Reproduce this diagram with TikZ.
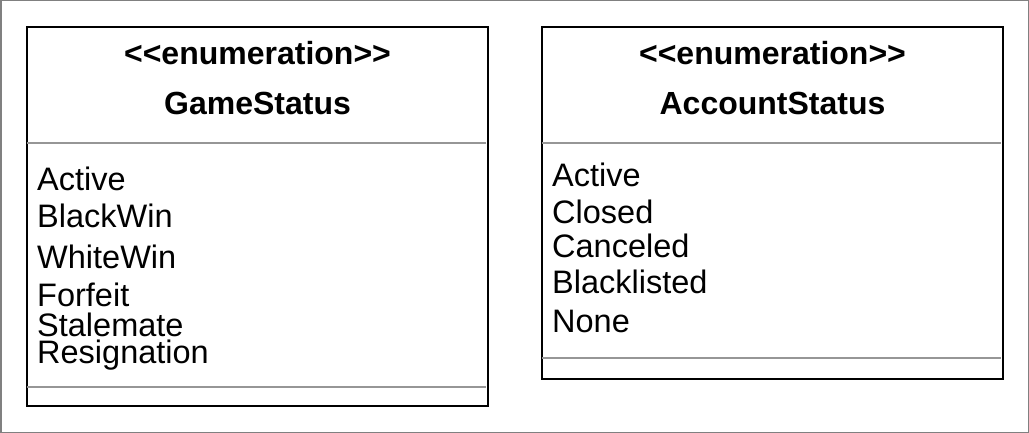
\documentclass[tikz,border=0pt]{standalone}
\usepackage{fontspec}
\setmainfont{Liberation Sans}
\begin{document}
\begin{tikzpicture}[x=1pt,y=-1pt,
  box/.style={draw=black,line width=2pt},
  sep/.style={draw=sepgray,line width=2pt},
  ttl/.style={font=\fontsize{32}{34}\selectfont\bfseries,anchor=base,inner sep=0pt},
  item/.style={font=\fontsize{32.5}{34}\selectfont,anchor=base west,inner sep=0pt}]
\definecolor{sepgray}{RGB}{150,150,150}
\useasboundingbox (0,0) rectangle (1029,433);
\draw[draw=gray,line width=1.5pt] (0.75,0.75) rectangle (1028.25,432.25);
% GameStatus
\draw[box] (27,27) rectangle (488,406);
\draw[sep] (27,143) -- (486,143);
\draw[sep] (27,387) -- (486,387);
\node[ttl] (g1) at (257.5,65) {<\kern0pt<enumeration>\kern0pt>};
\node[ttl] (g2) at (257.5,115) {GameStatus};
\node[item] (ga) at (37,190) {Active};
\node[item] (gb) at (37,228) {BlackWin};
\node[item] (gc) at (37,268) {WhiteWin};
\node[item] (gd) at (37,306) {Forfeit};
\node[item] (ge) at (37,336) {Stalemate};
\node[item] (gf) at (37,363) {Resignation};
% AccountStatus
\draw[box] (542,27) rectangle (1003,379);
\draw[sep] (542,143) -- (1001,143);
\draw[sep] (542,358) -- (1001,358);
\node[ttl] (a1) at (772.5,65) {<\kern0pt<enumeration>\kern0pt>};
\node[ttl] (a2) at (772.5,115) {AccountStatus};
\node[item] (aa) at (552,187) {Active};
\node[item] (ab) at (552,223) {Closed};
\node[item] (ac) at (552,258) {Canceled};
\node[item] (ad) at (552,293) {Blacklisted};
\node[item] (ae) at (552,332) {None};
\end{tikzpicture}
\end{document}
